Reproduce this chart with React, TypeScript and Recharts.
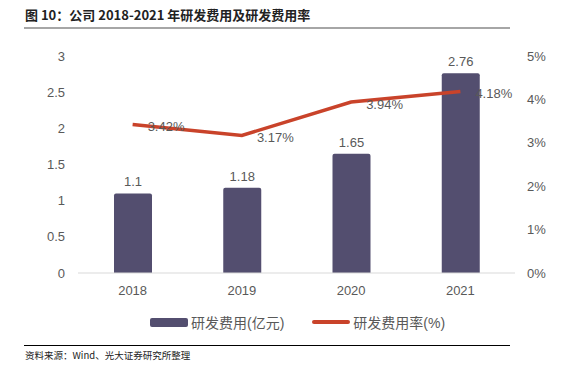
import React from 'react';
import { ComposedChart, Bar, Line, XAxis, YAxis, LabelList, Legend } from 'recharts';

const years = ['2018', '2019', '2020', '2021'];
const rdExpense = [1.1, 1.18, 1.65, 2.76];
const rdRate = [3.42, 3.17, 3.94, 4.18];
const leftTicks = [0, 0.5, 1, 1.5, 2, 2.5, 3];
const rightTicks = [0, 1, 2, 3, 4, 5];
const boundaryTicks = [0, 1, 2, 3, 4];

const data = years.map((y, i) => ({ year: y, i: i + 0.5, expense: rdExpense[i], rate: rdRate[i] }));

const FONT = '"Liberation Sans", Arial, "Noto Sans CJK SC", sans-serif';
const BAR_COLOR = '#534e6f';
const LINE_COLOR = '#c9432a';
const TEXT_COLOR = '#595959';

const RateLabel = (props: any) => {
  const { x, y, value } = props;
  return (
    <text x={x + 15} y={y + 2} dominantBaseline="central" textAnchor="start" fill={TEXT_COLOR} fontSize={13} fontFamily={FONT}>
      {`${value}%`}
    </text>
  );
};

const LegendContent = () => (
  <div style={{ display: 'flex', justifyContent: 'flex-start', alignItems: 'center', fontFamily: FONT, fontSize: 14, color: TEXT_COLOR, paddingLeft: 150 }}>
    <span style={{ display: 'inline-block', width: 38, height: 9, background: BAR_COLOR, borderRadius: 2, marginRight: 3 }} />
    <span>研发费用(亿元)</span>
    <span style={{ display: 'inline-block', width: 38, height: 4, background: LINE_COLOR, borderRadius: 2, marginLeft: 28, marginRight: 3 }} />
    <span>研发费用率(%)</span>
  </div>
);

export default function App() {
  return (
    <div style={{ position: 'absolute', left: 0, top: 0, width: 574, height: 373, background: '#fff', overflow: 'hidden' }}>
      <div style={{ position: 'absolute', left: 25, top: 5, fontFamily: '"Noto Sans CJK SC", sans-serif', fontWeight: 700, fontSize: 13, color: '#222', lineHeight: '20px', whiteSpace: 'nowrap' }}>
        图 10：公司 2018-2021 年研发费用及研发费用率
      </div>
      <div style={{ position: 'absolute', left: 24, top: 27, width: 486, height: 2, background: '#a6a6a6' }} />
      <ComposedChart width={574} height={373} data={data} margin={{ top: 56, right: 0, left: 0, bottom: 70 }}>
        <XAxis
          dataKey="year"
          xAxisId="cat"
          height={30}
          axisLine={{ stroke: '#d9d9d9' }}
          tickLine={false}
          tickSize={6}
          tickMargin={7}
          tick={{ fill: TEXT_COLOR, fontSize: 13, fontFamily: FONT }}
        />
        <XAxis
          xAxisId="grid"
          type="number"
          dataKey="i"
          domain={[0, 4]}
          ticks={boundaryTicks}
          allowDataOverflow
          height={0}
          axisLine={false}
          tick={false}
          tickSize={-5}
          tickLine={{ stroke: '#d0d0d0' }}
        />
        <YAxis
          yAxisId="left"
          orientation="left"
          width={78}
          domain={[0, 3]}
          ticks={leftTicks}
          axisLine={false}
          tickLine={false}
          tickSize={6}
          tickMargin={7}
          interval={0}
          tick={{ fill: TEXT_COLOR, fontSize: 13, fontFamily: FONT }}
        />
        <YAxis
          yAxisId="right"
          orientation="right"
          width={59}
          domain={[0, 5]}
          ticks={rightTicks}
          axisLine={false}
          tickLine={false}
          tickSize={6}
          tickMargin={6}
          interval={0}
          tickFormatter={(v: number) => `${v}%`}
          tick={{ fill: TEXT_COLOR, fontSize: 13, fontFamily: FONT }}
        />
        <Legend layout="horizontal" verticalAlign="middle" align="center" content={LegendContent} wrapperStyle={{ position: 'absolute', top: 312, left: 0, width: 574 }} />
        <Bar dataKey="expense" xAxisId="cat" yAxisId="left" fill={BAR_COLOR} barSize={38} radius={[2, 2, 0, 0]} isAnimationActive={false}>
          <LabelList dataKey="expense" position="top" offset={7} fill={TEXT_COLOR} fontSize={13} fontFamily={FONT} />
        </Bar>
        <Line dataKey="rate" xAxisId="cat" yAxisId="right" stroke={LINE_COLOR} strokeWidth={3.5} dot={false} activeDot={false} isAnimationActive={false}>
          <LabelList dataKey="rate" content={RateLabel} />
        </Line>
      </ComposedChart>
      <div style={{ position: 'absolute', left: 24, top: 345, width: 486, height: 1, background: '#000' }} />
      <div style={{ position: 'absolute', left: 25, top: 347, fontFamily: '"Noto Sans CJK SC", sans-serif', fontSize: 9.5, color: '#222', lineHeight: '16px', whiteSpace: 'nowrap' }}>
        资料来源：Wind、光大证券研究所整理
      </div>
    </div>
  );
}
